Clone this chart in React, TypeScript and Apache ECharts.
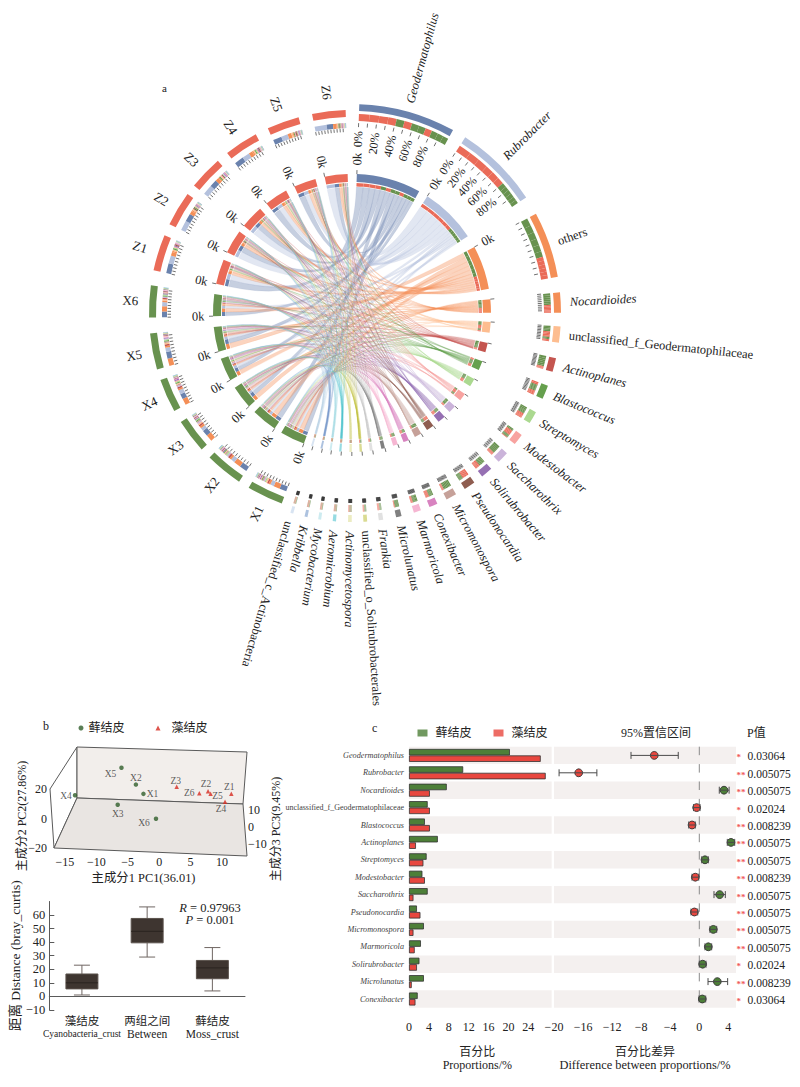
import React, { useEffect, useRef } from "react";
import * as echarts from "echarts";

// ---------- fonts & colours ----------
const SERIF = '"Liberation Serif","Noto Sans CJK SC",serif';
const INK = "#222222";
const MOSS = "#68924f";
const CRUST = "#ea6b58";

// ---------- panel a: chord data (relative abundance per sample) ----------
const sampleNames = ["X1", "X2", "X3", "X4", "X5", "X6", "Z1", "Z2", "Z3", "Z4", "Z5", "Z6"];
const genusNames = [
  "Geodermatophilus", "Rubrobacter", "others", "Nocardioides", "unclassified_f_Geodermatophilaceae",
  "Actinoplanes", "Blastococcus", "Streptomyces", "Modestobacter", "Saccharothrix", "Solirubrobacter",
  "Pseudonocardia", "Micromonospora", "Conexibacter", "Marmoricola", "Microlunatus", "Frankia",
  "unclassified_o_Solirubrobacterales", "Actinomycetospora", "Aeromicrobium", "Mycobacterium", "Kribbella",
  "unclassified_c_Actinobacteria",
];
const genusColors = [
  "#6a82ad", "#b4c1dd", "#f48f57", "#f48f57", "#fdbd90", "#c4554f", "#66a04e", "#abd990",
  "#f8a3a0", "#cbb4da", "#9670b3", "#8f5d50", "#c6a199", "#d883c0", "#f6b6d2", "#808080",
  "#c9c9c9", "#bcbd3a", "#dcdc90", "#3fbecb", "#a4dbe4", "#6a8fc4", "#b8cde8",
];
const geodermatophilus = [21, 23, 18, 16, 20, 17, 30, 24, 22, 28, 26, 19];
const rubrobacter = [11, 12, 10, 12, 13, 12, 24, 30, 30, 22, 20, 36];
const others = [19, 21, 20, 19, 22, 16, 11, 10, 10, 11, 11, 10];
const nocardioides = [6, 6, 6, 5, 5, 5, 4, 4, 4, 4, 3, 3];
const unclassifiedF = [4, 3, 4, 3, 4, 4, 4, 4, 3, 4, 4, 3];
const actinoplanes = [5, 6, 5, 5, 5, 4, 2, 1, 1, 1, 2, 1];
const blastococcus = [3, 3, 3, 3, 3, 3, 4, 3, 4, 3, 3, 3];
const streptomyces = [4, 4, 3, 3, 3, 3, 3, 2, 2, 3, 2, 2];
const modestobacter = [3, 2, 2, 3, 2, 2, 3, 3, 3, 3, 3, 2];
const saccharothrix = [4, 5, 4, 4, 3, 4, 1, 1, 2, 1, 2, 1];
const solirubrobacter = [3, 3, 3, 3, 3, 3, 3, 2, 2, 3, 2, 2];
const pseudonocardia = [2, 2, 2, 2, 2, 2, 3, 4, 3, 3, 3, 3];
const micromonospora = [4, 4, 4, 4, 4, 3, 1, 1, 1, 1, 1, 1];
const conexibacter = [2, 2, 2, 3, 2, 2, 2, 2, 2, 1, 2, 1];
const marmoricola = [3, 2, 2, 2, 3, 2, 1, 1, 1, 1, 1, 1];
const microlunatus = [2, 2, 2, 2, 2, 2, 0.5, 0.5, 0.5, 0.5, 0.5, 0.5];
const frankia = [1, 1, 1, 1, 1, 1, 1, 1, 1, 1, 1, 1];
const unclassifiedO = [1, 1, 1, 1, 1, 1, 0.7, 0.7, 0.7, 0.7, 0.7, 0.7];
const actinomycetospora = [0.8, 0.9, 0.8, 0.8, 0.9, 0.8, 0.9, 0.8, 0.8, 0.9, 0.8, 0.8];
const aeromicrobium = [0.7, 0.8, 0.7, 0.8, 0.7, 0.8, 0.8, 0.7, 0.8, 0.7, 0.8, 0.7];
const mycobacterium = [0.7, 0.7, 0.6, 0.7, 0.7, 0.6, 0.7, 0.7, 0.6, 0.7, 0.6, 0.7];
const kribbella = [0.7, 0.6, 0.7, 0.6, 0.7, 0.7, 0.7, 0.6, 0.7, 0.6, 0.7, 0.7];
const unclassifiedC = [0.7, 0.7, 0.7, 0.6, 0.6, 0.7, 0.7, 0.7, 0.6, 0.7, 0.6, 0.7];
const abundance = [
  geodermatophilus, rubrobacter, others, nocardioides, unclassifiedF, actinoplanes, blastococcus, streptomyces,
  modestobacter, saccharothrix, solirubrobacter, pseudonocardia, micromonospora, conexibacter, marmoricola,
  microlunatus, frankia, unclassifiedO, actinomycetospora, aeromicrobium, mycobacterium, kribbella, unclassifiedC,
];

// ---------- panel b ----------
const pcoaMossNames = ["X1", "X2", "X3", "X4", "X5", "X6"];
const pcoaMoss = [[-2.5, 16.7], [-3.7, 23], [-6.6, 9.3], [-13.4, 15.8], [-6, 34.4], [-0.5, -0.2]];
const pcoaCrustNames = ["Z1", "Z2", "Z3", "Z4", "Z5", "Z6"];
const pcoaCrust = [[11.5, 16.7], [7.8, 18.5], [2.8, 21.5], [10.5, 11.3], [8.2, 16.7], [6.4, 17.2]];
const mossLabelOffsets = [[9, 0], [0, -7], [0, 9], [-9, 1], [-11, 6], [-12, 4]];
const crustLabelOffsets = [[-2, -7], [-2, -7], [-1, -6], [-4, 7], [7, 2], [-10, 0]];

const boxCategories = ["藻结皮\nCyanobacteria_crust", "两组之间\nBetween", "藓结皮\nMoss_crust"];
const boxMin = [1, 29, 4];
const boxQ1 = [5.5, 39.5, 13];
const boxMedian = [10, 48, 21];
const boxQ3 = [16.5, 57.5, 26.5];
const boxMax = [23, 66, 36];

// ---------- panel c ----------
const stampGenera = [
  "Geodermatophilus", "Rubrobacter", "Nocardioides", "unclassified_f_Geodermatophilaceae", "Blastococcus",
  "Actinoplanes", "Streptomyces", "Modestobacter", "Saccharothrix", "Pseudonocardia", "Micromonospora",
  "Marmoricola", "Solirubrobacter", "Microlunatus", "Conexibacter",
];
const propMoss = [20.3, 10.9, 7.6, 3.76, 3.2, 5.8, 3.55, 2.7, 3.76, 1.6, 3, 2.4, 2.1, 3, 1.75];
const propCrust = [26.5, 27.5, 4.2, 4.2, 4.2, 1.4, 2.9, 3.2, 0.9, 2.3, 0.9, 1.15, 1.6, 0.55, 1.3];
const diffEstimate = [-6.2, -16.6, 3.4, -0.37, -1, 4.36, 0.78, -0.55, 2.8, -0.68, 1.93, 1.24, 0.46, 2.48, 0.41];
const diffLow = [-9.4, -19.3, 2.75, -0.8, -1.46, 3.85, 0.33, -1, 2.02, -1.14, 1.47, 0.78, 0, 1.2, -0.04];
const diffHigh = [-2.9, -14.1, 4.1, 0.1, -0.55, 4.87, 1.24, -0.08, 3.58, -0.22, 2.39, 1.7, 0.92, 3.9, 0.88];
const pValues = [
  "0.03064", "0.005075", "0.005075", "0.02024", "0.008239", "0.005075", "0.005075", "0.008239",
  "0.005075", "0.005075", "0.005075", "0.005075", "0.02024", "0.008239", "0.03064",
];
const proportionTicks = [0, 4, 8, 12, 16, 20, 24];
const differenceTicks = [-20, -16, -12, -8, -4, 0, 4];

// ---------- chord layout derived from the table ----------
// angular gap (degrees) after each sector, clockwise from Geodermatophilus
const sectorGaps = [
  3.9, 5.2, 4.3, 3.8, 4.3, 4, 4.1, 3.9, 3.3, 2.8, 2.7, 2.8, 2.8, 2.5, 3.5, 3.6, 3.2, 3.2, 3.3, 3.2, 3, 3.2, 3.1,
  3.2, 3.2, 3.6, 3.1, 4.5, 4.3, 3.4, 3, 3.4, 3.8, 3.9, 3.8,
];
const START = 2;
type Part = { other: number; value: number; a0: number; a1: number };
type Sector = { kind: "genus" | "sample"; index: number; name: string; a0: number; a1: number; parts: Part[] };

function buildLayout() {
  const genusTotals = abundance.map((row) => row.reduce((s, v) => s + v, 0));
  const sampleTotals = sampleNames.map((_, j) => abundance.reduce((s, row) => s + row[j], 0));
  const all = genusTotals.reduce((s, v) => s + v, 0) * 2;
  const gapSum = sectorGaps.reduce((s, v) => s + v, 0);
  const k = (360 - gapSum) / all;
  const sectors: Sector[] = [];
  let cursor = START;
  const place = (kind: "genus" | "sample", index: number, name: string, total: number, vals: number[]) => {
    const a0 = cursor;
    const a1 = a0 + total * k;
    const order = vals.map((value, other) => ({ other, value })).sort((p, q) => q.value - p.value);
    let c = a0;
    const parts = order.map((p) => {
      const part = { other: p.other, value: p.value, a0: c, a1: c + p.value * k };
      c = part.a1;
      return part;
    });
    cursor = a1 + sectorGaps[sectors.length];
    sectors.push({ kind, index, name, a0, a1, parts });
  };
  genusNames.forEach((n, i) => place("genus", i, n, genusTotals[i], abundance[i]));
  sampleNames.forEach((n, j) => place("sample", j, n, sampleTotals[j], abundance.map((row) => row[j])));
  return sectors;
}
const sectors = buildLayout();
const partOf = (kind: string, index: number, other: number) =>
  sectors.find((s) => s.kind === kind && s.index === index)!.parts.find((p) => p.other === other)!;

const RIBBON_R = 126;
type Band = { r0: number; r1: number; a0: number; a1: number; color: string; opacity: number };
const bands: Band[] = [];
type Tick = { r0: number; r1: number; a: number };
const ticks: Tick[] = [];
type Lab = { text: string; r: number; a: number; mode: "out" | "in"; align: string; size: number; italic: boolean };
const labels: Lab[] = [];
const groupColor = (j: number) => (j < 6 ? MOSS : CRUST);

sectors.forEach((s, idx) => {
  const genus = s.kind === "genus";
  const fill = genus ? genusColors[s.index] : groupColor(s.index);
  const partColor = (p: Part) => (genus ? groupColor(p.other) : genusColors[p.other]);
  const tiny = genus && s.index >= 16;
  // inner ring
  bands.push({ r0: 131, r1: 139, a0: s.a0, a1: s.a1, color: fill, opacity: tiny ? 0.55 : 1 });
  s.parts.forEach((p) => bands.push({ r0: 126.7, r1: 130, a0: p.a0, a1: p.a1, color: partColor(p), opacity: 1 }));
  ticks.push({ r0: 139, r1: 143, a: s.a0 });
  if (idx < 3 || !genus) labels.push({ text: "0k", r: 154, a: s.a0, mode: s.a0 > 180 ? "in" : "out", align: "center", size: 12.5, italic: false });
  // outer tracks
  const oOuter = genus ? [202, 209] : [196, 203];
  const oStack = genus ? [192, 199] : [185, 190];
  const oTick = genus ? [186, 190] : [181, 184.5];
  bands.push({ r0: oOuter[0], r1: oOuter[1], a0: s.a0, a1: s.a1, color: fill, opacity: tiny ? 0.55 : 1 });
  s.parts.forEach((p) => bands.push({ r0: oStack[0], r1: oStack[1], a0: p.a0, a1: p.a1, color: partColor(p), opacity: tiny ? 0.7 : 1 }));
  for (let t = 0; t < 10; t++) ticks.push({ r0: oTick[0], r1: oTick[1], a: s.a0 + ((s.a1 - s.a0) * t) / 10 });
  if (idx < 2) {
    [0, 20, 40, 60, 80].forEach((pct) =>
      labels.push({ text: pct + "%", r: 182, a: s.a0 + ((s.a1 - s.a0) * pct) / 100, mode: "out", align: "right", size: 12, italic: false })
    );
  }
  const mid = (s.a0 + s.a1) / 2;
  if (genus) {
    const plain = s.name === "others" || s.name.startsWith("unclassified");
    labels.push({ text: s.name, r: 218, a: mid, mode: "out", align: "left", size: 12.5, italic: !plain });
  } else {
    labels.push({ text: s.name, r: 222, a: mid, mode: "in", align: "center", size: 13, italic: false });
  }
});

type Link = { g: number; s0: number; s1: number; g0: number; g1: number };
const links: Link[] = [];
genusNames.forEach((_, g) =>
  sampleNames.forEach((__, j) => {
    const sp = partOf("sample", j, g);
    const gp = partOf("genus", g, j);
    links.push({ g, s0: sp.a0, s1: sp.a1, g0: gp.a0, g1: gp.a1 });
  })
);

const minus = (v: number | string) => String(v).replace("-", "−");

function ringPath(api: any, r0: number, r1: number, a0: number, a1: number) {
  const p1 = api.coord([r1, a0]);
  const p2 = api.coord([r1, a1]);
  const p3 = api.coord([r0, a1]);
  const p4 = api.coord([r0, a0]);
  return `M${p1[0]} ${p1[1]}A${r1} ${r1} 0 0 1 ${p2[0]} ${p2[1]}L${p3[0]} ${p3[1]}A${r0} ${r0} 0 0 0 ${p4[0]} ${p4[1]}Z`;
}

function buildOption(): any {
  const mossPoints = pcoaMoss.map((v, i) => ({
    value: v,
    name: pcoaMossNames[i],
    label: { offset: mossLabelOffsets[i] },
  }));
  const crustPoints = pcoaCrust.map((v, i) => ({
    value: v,
    name: pcoaCrustNames[i],
    label: { offset: crustLabelOffsets[i] },
  }));
  const pointLabel = {
    show: true,
    position: "inside",
    formatter: "{b}",
    fontFamily: SERIF,
    fontSize: 9.5,
    color: "#333",
  };
  const legendBase = {
    orient: "horizontal",
    padding: 0,
    selectedMode: false,
    textStyle: { fontFamily: SERIF, fontSize: 12, color: INK },
  };
  const axisFont = { fontFamily: SERIF, fontSize: 12, color: INK };
  const axisGray = "#5a5a5a";

  return {
    animation: false,
    backgroundColor: "#ffffff",
    legend: [
      { ...legendBase, left: 78.5, top: 722, itemWidth: 5, itemHeight: 5, data: [{ name: "藓结皮", icon: "circle", itemStyle: { color: "#2f5e2a" } }] },
      { ...legendBase, left: 155.5, top: 722, itemWidth: 5, itemHeight: 5, textStyle: { ...legendBase.textStyle, padding: [0, 0, 0, 6] }, data: [{ name: "藻结皮", icon: "triangle", itemStyle: { color: "#d62a20" } }] },
      { ...legendBase, left: 417.5, top: 727, itemWidth: 10, itemHeight: 7, textStyle: { ...legendBase.textStyle, padding: [0, 0, 0, 3] }, data: [{ name: "藓结皮", icon: "rect", itemStyle: { color: "#4d7f38" } }] },
      { ...legendBase, left: 493.5, top: 727, itemWidth: 10, itemHeight: 7, textStyle: { ...legendBase.textStyle, padding: [0, 0, 0, 3] }, data: [{ name: "藻结皮", icon: "rect", itemStyle: { color: "#e8473f" } }] },
    ],
    polar: { center: [352, 313], radius: 240 },
    radiusAxis: { type: "value", min: 0, max: 240, show: false },
    angleAxis: { type: "value", min: 0, max: 360, startAngle: 90, show: false },
    grid: [
      { left: 54, width: 193, top: 730, height: 118 },
      { left: 49.3, width: 195.7, top: 901.5, height: 108.4 },
      { left: 409, width: 136.7, top: 746.7, height: 261 },
      { left: 554, width: 182, top: 746.7, height: 261 },
      { left: 54, width: 193, top: 778, height: 102 },
    ],
    xAxis: [
      {
        gridIndex: 0, type: "value", min: -16.75, max: 14,
        axisLine: { show: false }, axisTick: { show: false }, splitLine: { show: false },
        axisLabel: { ...axisFont, margin: 8, customValues: [-15, -10, -5, 0, 5, 10], formatter: minus },
        name: "主成分1 PC1(36.01)", nameLocation: "middle", nameGap: 24,
        nameTextStyle: { ...axisFont, fontSize: 12.4, padding: [0, 14, 0, 0] },
      },
      {
        gridIndex: 1, type: "category", data: boxCategories,
        axisLine: { lineStyle: { color: axisGray } },
        axisTick: { inside: true, length: 5, lineStyle: { color: axisGray } },
        axisLabel: {
          interval: 0, margin: 4, lineHeight: 13,
          formatter: (v: string) => {
            const [cn, en] = v.split("\n");
            return en.length > 12 ? `{a|${cn}}\n{s|${en}}` : `{a|${cn}}\n{b|${en}}`;
          },
          rich: {
            a: { fontFamily: SERIF, fontSize: 11.5, color: INK, lineHeight: 14 },
            s: { fontFamily: SERIF, fontSize: 9.5, color: INK, lineHeight: 12 },
            b: { fontFamily: SERIF, fontSize: 11.5, color: INK, lineHeight: 12 },
          },
        },
      },
      {
        gridIndex: 2, type: "value", min: 0, max: 27.5, offset: 8,
        splitLine: { show: false },
        axisLine: { lineStyle: { color: axisGray } },
        axisTick: { inside: true, length: 5, customValues: proportionTicks, lineStyle: { color: axisGray } },
        axisLabel: { ...axisFont, margin: 5, customValues: proportionTicks },
        name: "{a|百分比}\n{b|Proportions/%}", nameLocation: "middle", nameGap: 29,
        nameTextStyle: {
          rich: {
            a: { fontFamily: SERIF, fontSize: 12, color: INK, lineHeight: 14, align: "center" },
            b: { fontFamily: SERIF, fontSize: 12, color: INK, lineHeight: 13, align: "center" },
          },
        },
      },
      {
        gridIndex: 3, type: "value", min: -20, max: 5.05, offset: 8,
        splitLine: { show: false },
        axisLine: { lineStyle: { color: axisGray } },
        axisTick: { inside: true, length: 5, customValues: differenceTicks, lineStyle: { color: axisGray } },
        axisLabel: { ...axisFont, margin: 5, customValues: differenceTicks, formatter: minus },
        name: "{a|百分比差异}\n{b|Difference between proportions/%}", nameLocation: "middle", nameGap: 29,
        nameTextStyle: {
          rich: {
            a: { fontFamily: SERIF, fontSize: 12, color: INK, lineHeight: 14, align: "center" },
            b: { fontFamily: SERIF, fontSize: 12.4, color: INK, lineHeight: 13, align: "center" },
          },
        },
      },
      { gridIndex: 4, type: "value", min: 0, max: 1, show: false },
    ],
    yAxis: [
      {
        gridIndex: 0, type: "value", min: -20, max: 60,
        axisLine: { show: false }, axisTick: { show: false }, splitLine: { show: false },
        axisLabel: { ...axisFont, margin: 7, customValues: [-20, 0, 20], formatter: minus },
        name: "主成分2 PC2(27.86%)", nameLocation: "middle", nameGap: 26, nameRotate: 90, nameMoveOverlap: false,
        nameTextStyle: { ...axisFont, fontSize: 12, padding: [0, 54, 0, 0] },
      },
      {
        gridIndex: 1, type: "value", min: -10, max: 70,
        splitLine: { show: false },
        axisLine: { show: true, lineStyle: { color: axisGray } },
        axisTick: { show: true, inside: true, length: 5, customValues: [-10, 0, 10, 20, 30, 40, 50, 60], lineStyle: { color: axisGray } },
        axisLabel: { ...axisFont, fontSize: 12.5, margin: 4, customValues: [-10, 0, 10, 20, 30, 40, 50, 60], formatter: minus },
        name: "距离 Distance (bray_curtis)", nameLocation: "middle", nameGap: 26, nameRotate: 90,
        nameTextStyle: { ...axisFont, fontSize: 13.5 },
      },
      {
        gridIndex: 2, type: "category", inverse: true, data: stampGenera,
        axisLine: { show: false }, axisTick: { show: false },
        axisLabel: {
          interval: 0, margin: 5, color: "#444",
          formatter: (v: string) => (v.startsWith("unclassified") ? `{n|${v}}` : `{i|${v}}`),
          rich: {
            i: { fontFamily: SERIF, fontStyle: "italic", fontSize: 8.2, color: "#444" },
            n: { fontFamily: SERIF, fontSize: 8, color: "#444" },
          },
        },
      },
      { gridIndex: 3, type: "category", inverse: true, data: stampGenera, show: false },
      {
        gridIndex: 4, type: "value", position: "right", min: -31.2, max: 28.8,
        splitLine: { show: false },
        axisLine: { show: false }, axisTick: { show: false },
        axisLabel: { ...axisFont, margin: 1, customValues: [-10, 0, 10], formatter: minus },
        name: "主成分3 PC3(9.45%)", nameLocation: "middle", nameGap: 23, nameRotate: 90, nameMoveOverlap: false,
        nameTextStyle: { ...axisFont, fontSize: 12 },
      },
    ],
    graphic: {
      elements: [
        // 3D-looking frame of the ordination
        { type: "polygon", z: 0, shape: { points: [[50, 789], [77, 747], [77, 798], [54, 848]] }, style: { fill: "#ffffff", stroke: axisGray, lineWidth: 1 } },
        { type: "polygon", z: 0, shape: { points: [[77, 747], [247, 752], [243, 804], [77, 798]] }, style: { fill: "#f2eeeb", stroke: axisGray, lineWidth: 1 } },
        { type: "polygon", z: 0, shape: { points: [[77, 798], [243, 804], [247, 856], [54, 848]] }, style: { fill: "#e9e5e2", stroke: axisGray, lineWidth: 1 } },
        { type: "text", x: 162, y: 82, style: { text: "a", fontFamily: SERIF, fontSize: 11, fill: INK } },
        { type: "text", x: 43, y: 720, style: { text: "b", fontFamily: SERIF, fontSize: 12, fill: INK } },
        { type: "text", x: 372, y: 722, style: { text: "c", fontFamily: SERIF, fontSize: 12, fill: INK } },
        { type: "text", x: 210, y: 902, style: { text: "{i|R} = 0.97963", align: "center", rich: { i: { fontStyle: "italic", fontFamily: SERIF, fontSize: 12.5, fill: INK } }, fontFamily: SERIF, fontSize: 12.5, fill: INK } },
        { type: "text", x: 210, y: 914, style: { text: "{i|P} = 0.001", align: "center", rich: { i: { fontStyle: "italic", fontFamily: SERIF, fontSize: 12.5, fill: INK } }, fontFamily: SERIF, fontSize: 12.5, fill: INK } },
        { type: "text", x: 656, y: 733, style: { text: "95%置信区间", align: "center", verticalAlign: "middle", fontFamily: SERIF, fontSize: 12, fill: INK } },
        { type: "text", x: 747, y: 733, style: { text: "P值", verticalAlign: "middle", fontFamily: SERIF, fontSize: 12, fill: INK } },
      ],
    },
    series: [
      // panel a ----------------------------------------------------------
      {
        type: "custom", coordinateSystem: "polar", silent: true, z: 2,
        data: links.map((l) => [l.s0, l.s1, l.g0, l.g1, l.g]),
        renderItem: (_: any, api: any) => {
          const s0 = api.value(0), s1 = api.value(1), g0 = api.value(2), g1 = api.value(3);
          const c = api.coord([0, 0]);
          const a = api.coord([RIBBON_R, s0]);
          const b = api.coord([RIBBON_R, s1]);
          const d = api.coord([RIBBON_R, g0]);
          const e = api.coord([RIBBON_R, g1]);
          const R = RIBBON_R;
          return {
            type: "path",
            shape: {
              pathData: `M${a[0]} ${a[1]}A${R} ${R} 0 0 1 ${b[0]} ${b[1]}Q${c[0]} ${c[1]} ${d[0]} ${d[1]}A${R} ${R} 0 0 1 ${e[0]} ${e[1]}Q${c[0]} ${c[1]} ${a[0]} ${a[1]}Z`,
            },
            style: { fill: genusColors[api.value(4)], stroke: genusColors[api.value(4)], lineWidth: 0.3, opacity: 0.38 },
          };
        },
      },
      {
        type: "custom", coordinateSystem: "polar", silent: true, z: 3,
        data: bands.map((b) => [b.r0, b.r1, b.a0, b.a1]),
        renderItem: (p: any, api: any) => ({
          type: "path",
          shape: { pathData: ringPath(api, api.value(0), api.value(1), api.value(2), api.value(3)) },
          style: { fill: bands[p.dataIndex].color, opacity: bands[p.dataIndex].opacity },
        }),
      },
      {
        type: "custom", coordinateSystem: "polar", silent: true, z: 3,
        data: ticks.map((t) => [t.r0, t.a, t.r1]),
        renderItem: (_: any, api: any) => {
          const p = api.coord([api.value(0), api.value(1)]);
          const q = api.coord([api.value(2), api.value(1)]);
          return { type: "line", shape: { x1: p[0], y1: p[1], x2: q[0], y2: q[1] }, style: { stroke: "#333", lineWidth: 0.7 } };
        },
      },
      {
        type: "custom", coordinateSystem: "polar", silent: true, z: 4,
        data: labels.map((l) => [l.r, l.a]),
        renderItem: (p: any, api: any) => {
          const l = labels[p.dataIndex];
          const pt = api.coord([api.value(0), api.value(1)]);
          const cw = l.mode === "out" ? l.a - 90 : l.a + 90;
          return {
            type: "text",
            x: pt[0],
            y: pt[1],
            rotation: (-cw * Math.PI) / 180,
            style: {
              text: l.text,
              fontFamily: SERIF,
              fontSize: l.size,
              fontStyle: l.italic ? "italic" : "normal",
              align: l.align,
              verticalAlign: "middle",
              fill: INK,
            },
          };
        },
      },
      // panel b ----------------------------------------------------------
      { name: "藓结皮", type: "scatter", xAxisIndex: 0, yAxisIndex: 0, symbol: "circle", symbolSize: 4.5, itemStyle: { color: "#2f5e2a" }, label: pointLabel, data: mossPoints, z: 5 },
      { name: "藻结皮", type: "scatter", xAxisIndex: 0, yAxisIndex: 0, symbol: "triangle", symbolSize: 4.5, itemStyle: { color: "#d62a20" }, label: pointLabel, data: crustPoints, z: 5 },
      {
        type: "custom", xAxisIndex: 1, yAxisIndex: 1, silent: true, z: 3,
        encode: { x: 0, y: [1, 2, 3, 4, 5] },
        data: boxCategories.map((_, i) => [i, boxMin[i], boxQ1[i], boxMedian[i], boxQ3[i], boxMax[i]]),
        renderItem: (_: any, api: any) => {
          const i = api.value(0);
          const at = (d: number) => api.coord([i, api.value(d)]);
          const bw = api.size([1, 0])[0] * 0.49;
          const cx = at(1)[0];
          const yMin = at(1)[1], yQ1 = at(2)[1], yMed = at(3)[1], yQ3 = at(4)[1], yMax = at(5)[1];
          const wh = { stroke: "#6f6662", lineWidth: 1 };
          const line = (x1: number, y1: number, x2: number, y2: number, style: any) => ({ type: "line", shape: { x1, y1, x2, y2 }, style });
          return {
            type: "group",
            children: [
              line(cx, yMin, cx, yQ1, wh),
              line(cx, yQ3, cx, yMax, wh),
              line(cx - bw / 4, yMin, cx + bw / 4, yMin, wh),
              line(cx - bw / 4, yMax, cx + bw / 4, yMax, wh),
              { type: "rect", shape: { x: cx - bw / 2, y: yQ3, width: bw, height: yQ1 - yQ3 }, style: { fill: "#3e3530", stroke: "#5b524c", lineWidth: 1 } },
              line(cx - bw / 2, yMed, cx + bw / 2, yMed, { stroke: "#2a2420", lineWidth: 1 }),
            ],
          };
        },
      },
      // panel c ----------------------------------------------------------
      {
        type: "custom", xAxisIndex: 2, yAxisIndex: 2, silent: true, z: 1,
        encode: { x: 0, y: 1 },
        data: stampGenera.map((_, i) => [28.7, i]).filter((d) => d[1] % 2 === 0),
        renderItem: (_: any, api: any) => {
          const h = api.size([0, 1])[1];
          const p = api.coord([0, api.value(1)]);
          const q = api.coord([api.value(0), api.value(1)]);
          return { type: "rect", shape: { x: p[0], y: p[1] - h / 2, width: q[0] - p[0], height: h }, style: { fill: "#f4f0ef" } };
        },
      },
      {
        type: "custom", xAxisIndex: 3, yAxisIndex: 3, silent: true, z: 1,
        encode: { x: 0, y: 1 },
        data: stampGenera.map((_, i) => [-20, i]).filter((d) => d[1] % 2 === 0),
        renderItem: (_: any, api: any) => {
          const h = api.size([0, 1])[1];
          const p = api.coord([api.value(0), api.value(1)]);
          const q = api.coord([5.05, api.value(1)]);
          return { type: "rect", shape: { x: p[0], y: p[1] - h / 2, width: q[0] - p[0], height: h }, style: { fill: "#f4f0ef" } };
        },
      },
      {
        name: "藓结皮", type: "bar", xAxisIndex: 2, yAxisIndex: 2, barWidth: 6.5, barGap: "0%", z: 3,
        itemStyle: { color: "#4d7f38", borderColor: "#333", borderWidth: 0.8 },
        data: propMoss,
      },
      {
        name: "藻结皮", type: "bar", xAxisIndex: 2, yAxisIndex: 2, barWidth: 6.5, barGap: "0%", z: 3,
        itemStyle: { color: "#e8473f", borderColor: "#333", borderWidth: 0.8 },
        data: propCrust,
      },
      {
        type: "custom", xAxisIndex: 3, yAxisIndex: 3, silent: true, z: 2,
        encode: { x: 0, y: 1 },
        data: [[0, 0]],
        renderItem: (_: any, api: any) => {
          const h = api.size([0, 1])[1];
          const top = api.coord([0, 0]);
          const bot = api.coord([0, stampGenera.length - 1]);
          return { type: "line", shape: { x1: top[0], y1: top[1] - h / 2, x2: bot[0], y2: bot[1] + h / 2 }, style: { stroke: "#8a8a8a", lineWidth: 1, lineDash: [8.5, 8.9] } };
        },
      },
      {
        type: "custom", xAxisIndex: 3, yAxisIndex: 3, silent: true, z: 3,
        encode: { x: [0, 2, 3], y: 1 },
        data: stampGenera.map((_, i) => [diffEstimate[i], i, diffLow[i], diffHigh[i]]),
        renderItem: (_: any, api: any) => {
          const est = api.coord([api.value(0), api.value(1)]);
          const lo = api.coord([api.value(2), api.value(1)]);
          const hi = api.coord([api.value(3), api.value(1)]);
          const st = { stroke: "#4a4a4a", lineWidth: 1 };
          return {
            type: "group",
            children: [
              { type: "circle", shape: { cx: est[0], cy: est[1], r: 3.9 }, style: { fill: api.value(0) < 0 ? "#e8473f" : "#4d7f38", stroke: "#333", lineWidth: 0.9 } },
              { type: "line", shape: { x1: lo[0], y1: lo[1], x2: hi[0], y2: hi[1] }, style: st },
              { type: "line", shape: { x1: lo[0], y1: lo[1] - 3.5, x2: lo[0], y2: lo[1] + 3.5 }, style: st },
              { type: "line", shape: { x1: hi[0], y1: hi[1] - 3.5, x2: hi[0], y2: hi[1] + 3.5 }, style: st },
            ],
          };
        },
      },
      {
        type: "custom", xAxisIndex: 3, yAxisIndex: 3, silent: true, z: 4,
        encode: { x: 0, y: 1 },
        data: pValues.map((p, i) => [5.05, i, parseFloat(p)]),
        renderItem: (p: any, api: any) => {
          const pt = api.coord([api.value(0), api.value(1)]);
          const val = api.value(2);
          return {
            type: "group",
            children: [
              { type: "text", x: pt[0] + 0.5, y: pt[1] + 2, style: { text: val < 0.01 ? "**" : "*", fontFamily: SERIF, fontSize: 9, fontWeight: "bold", fill: "#f0595a", verticalAlign: "middle" } },
              { type: "text", x: pt[0] + 11.5, y: pt[1] + 1, style: { text: pValues[p.dataIndex], fontFamily: SERIF, fontSize: 11.5, fill: INK, verticalAlign: "middle" } },
            ],
          };
        },
      },
    ],
  };
}

export default function App() {
  const ref = useRef<HTMLDivElement>(null);
  useEffect(() => {
    const chart = echarts.init(ref.current!, undefined, { renderer: "svg" });
    chart.setOption(buildOption());
    return () => chart.dispose();
  }, []);
  return <div ref={ref} style={{ position: "absolute", left: 0, top: 0, width: 800, height: 1087 }} />;
}
